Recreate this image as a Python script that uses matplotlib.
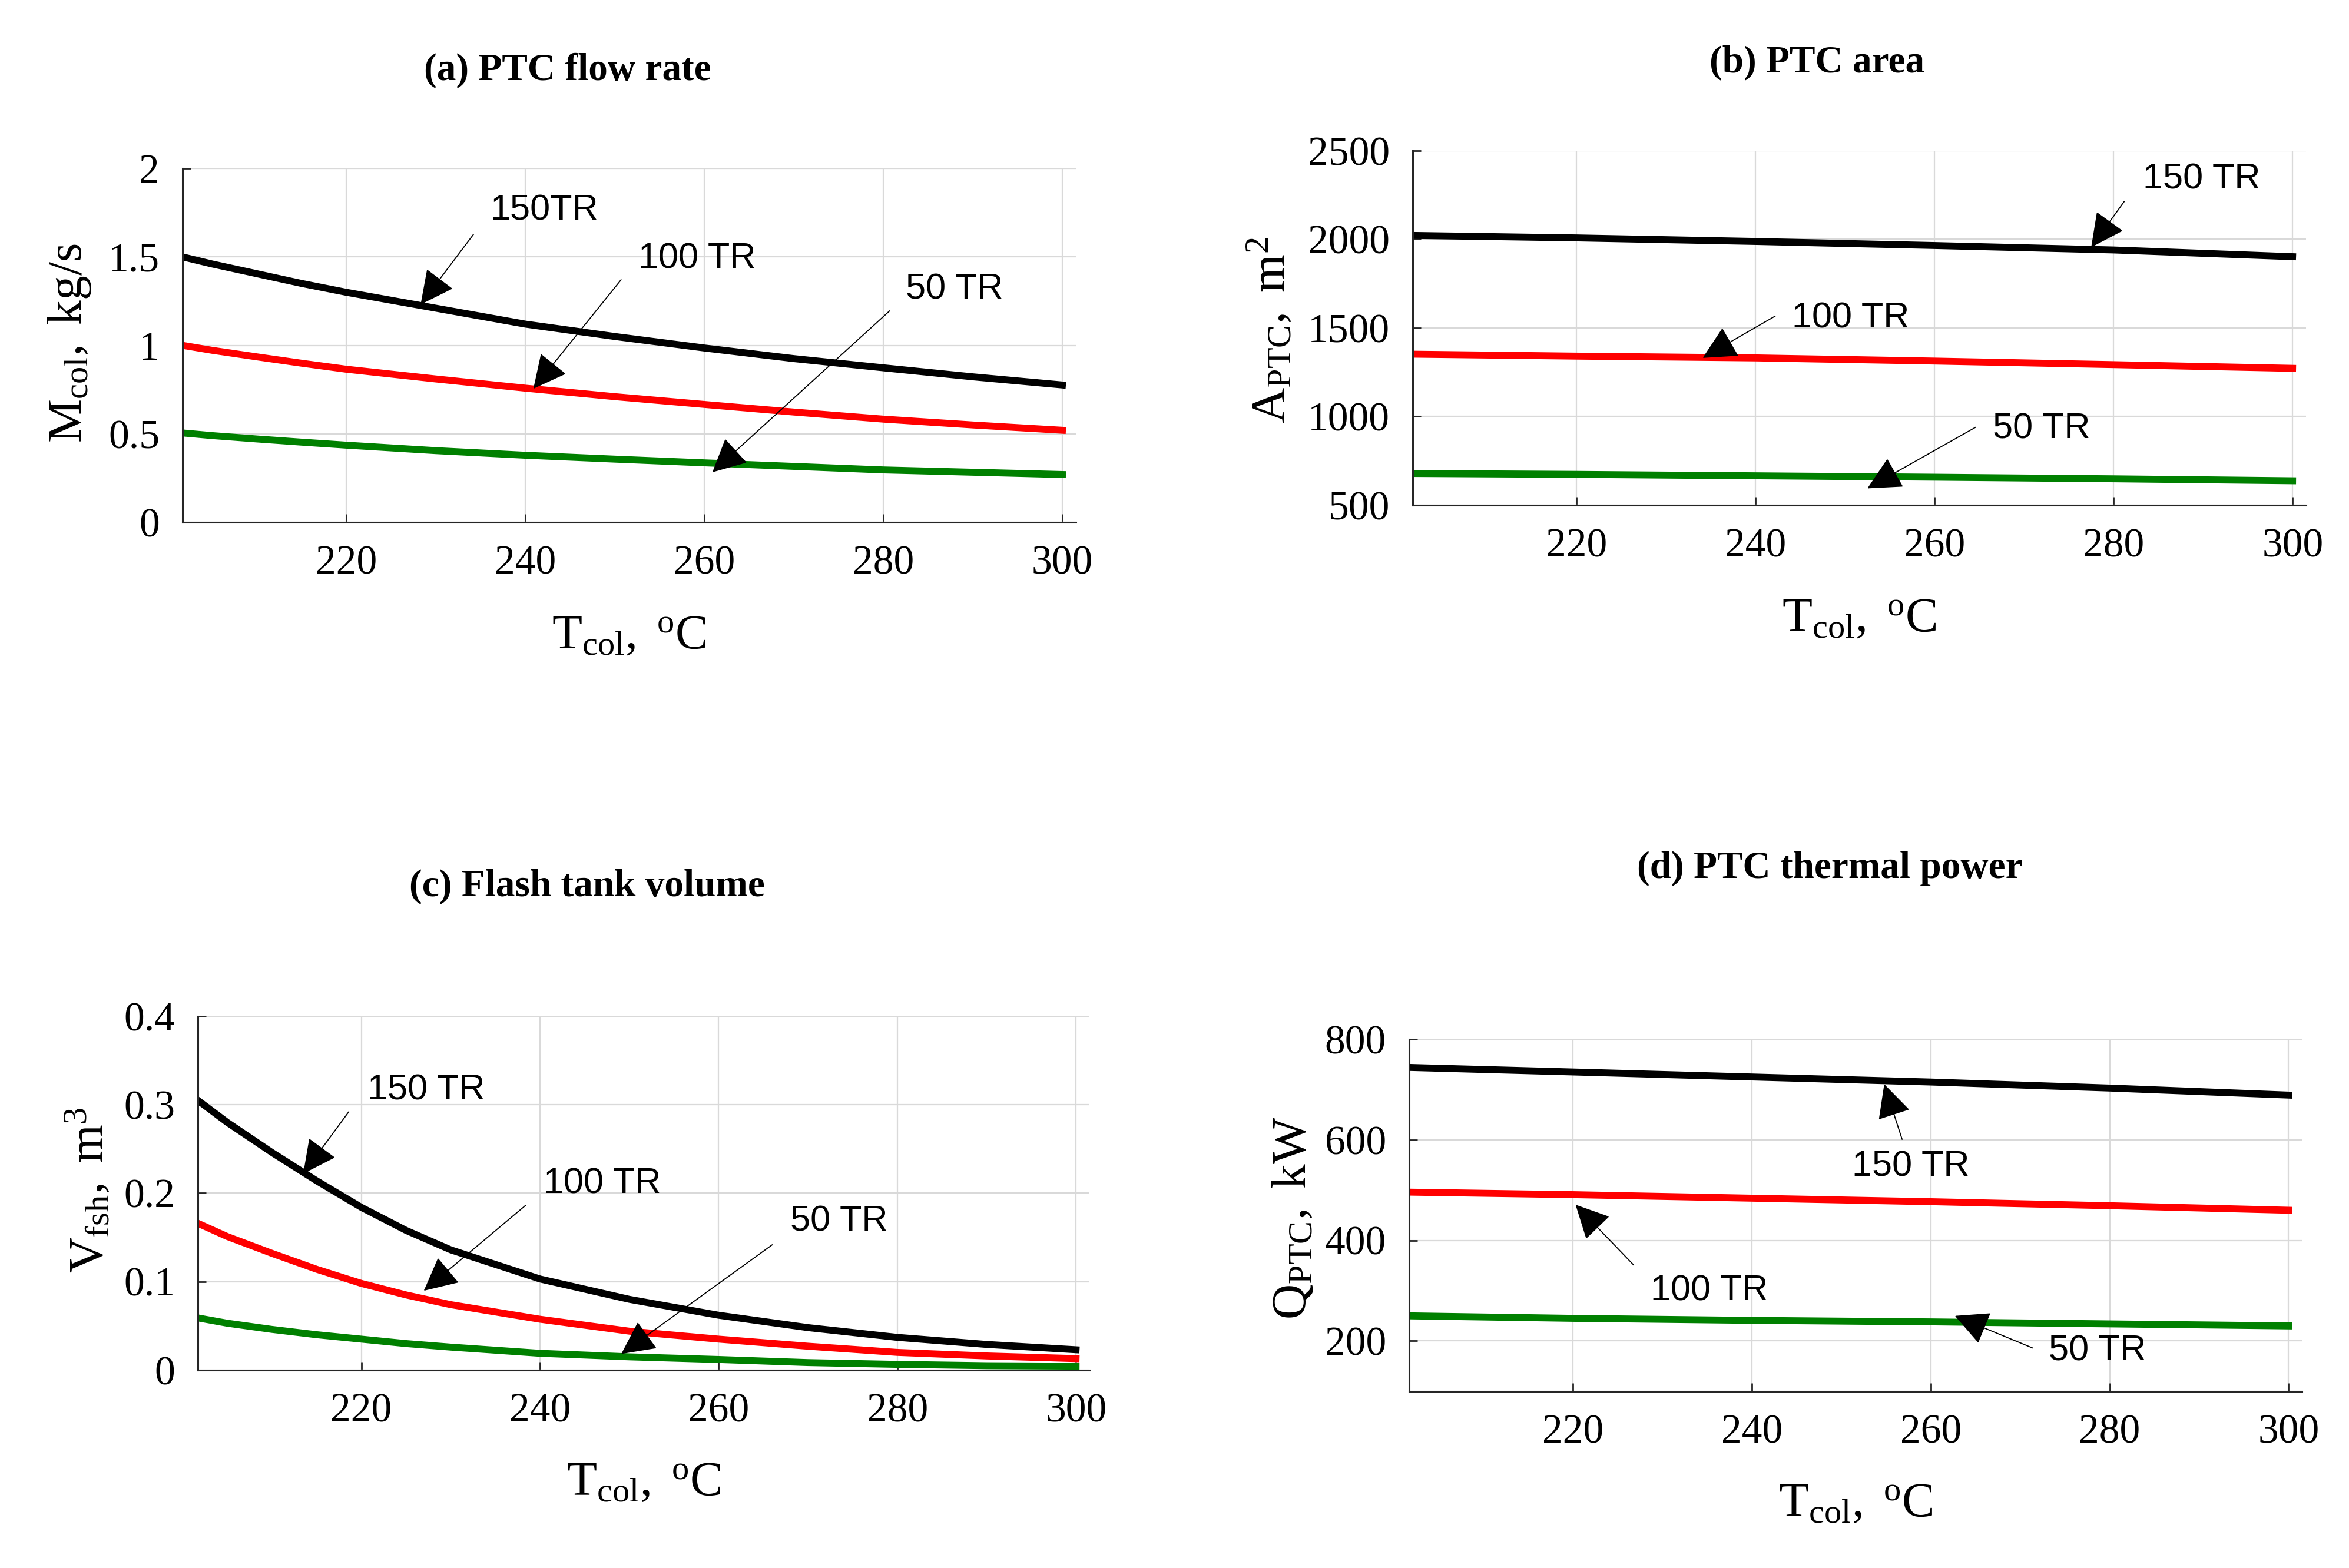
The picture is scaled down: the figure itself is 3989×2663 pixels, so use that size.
import numpy as np
import matplotlib
matplotlib.use("Agg")
import matplotlib.pyplot as plt
from matplotlib.ticker import FuncFormatter

# collector temperature, degC
t_col = [201.7, 205, 210, 215, 220, 230, 240, 250, 260, 270, 280, 290, 300]
t_col_fine = [201.7, 205, 210, 215, 220, 225, 230, 240, 250, 260, 270, 280, 290, 300]
t_col_short = [201.7, 220, 240, 260, 280, 300]

# (a) PTC flow rate, kg/s
m_150 = [1.50, 1.46, 1.405, 1.35, 1.30, 1.21, 1.12, 1.05, 0.985, 0.925, 0.873, 0.822, 0.776]
m_100 = [1.00, 0.972, 0.935, 0.899, 0.865, 0.81, 0.758, 0.71, 0.666, 0.623, 0.583, 0.55, 0.52]
m_50 = [0.505, 0.49, 0.471, 0.453, 0.436, 0.405, 0.379, 0.357, 0.336, 0.316, 0.296, 0.283, 0.27]

# (b) PTC area, m2
a_150 = [2022, 2008, 1988, 1965, 1940, 1902]
a_100 = [1352, 1341, 1331, 1313, 1293, 1272]
a_50 = [679, 674, 666, 658, 649, 638]

# (c) flash tank volume, m3
v_150 = [0.305, 0.280, 0.246, 0.214, 0.184, 0.158, 0.136, 0.103, 0.080, 0.062, 0.048, 0.037, 0.029, 0.023]
v_100 = [0.166, 0.151, 0.132, 0.114, 0.098, 0.085, 0.074, 0.0575, 0.044, 0.035, 0.027, 0.020, 0.016, 0.013]
v_50 = [0.059, 0.053, 0.046, 0.040, 0.035, 0.030, 0.026, 0.019, 0.015, 0.012, 0.0085, 0.0065, 0.005, 0.0045]

# (d) PTC thermal power, kW
q_150 = [744, 735, 725, 715, 703, 689]
q_100 = [496, 491, 484, 477, 469, 460]
q_50 = [250, 245, 241, 238, 234, 230]

plt.rcParams['font.family'] = ['Liberation Serif', 'DejaVu Serif']
plt.rcParams['mathtext.fontset'] = 'custom'
plt.rcParams['mathtext.rm'] = 'Liberation Serif'
plt.rcParams['mathtext.it'] = 'Liberation Serif:italic'

fig = plt.figure(figsize=(39.89, 26.63), dpi=100)

def setup(rect, ylim, yticks, ylabel, ylab_x, ylab_y, xlab_y):
    ax = fig.add_axes(rect)
    ax.set_xlim(201.7, 301.5)
    ax.set_ylim(*ylim)
    ax.set_xticks([220, 240, 260, 280, 300])
    ax.set_yticks(yticks)
    ax.yaxis.set_major_formatter(FuncFormatter(lambda v, p: f'{v:g}'))
    ax.grid(True, color='#d9d9d9', lw=1.6)
    ax.set_axisbelow(True)
    for s in ['top', 'right']:
        ax.spines[s].set_visible(False)
    for s in ['left', 'bottom']:
        ax.spines[s].set_linewidth(2.2)
        ax.spines[s].set_color('#262626')
    ax.tick_params(direction='in', length=10, width=2, labelsize=50, pad=28,
                   color='#262626')
    ax.set_xlabel(r'$\mathrm{T_{col},\ {}^{o}C}$', fontsize=60)
    ax.set_ylabel(ylabel, fontsize=60)
    ax.xaxis.set_label_coords(0.5, xlab_y)
    ax.yaxis.set_label_coords(ylab_x, ylab_y)
    return ax

def note(ax, text, xy, xytext, txt):
    ax.annotate('', xy=xy, xytext=xytext,
                arrowprops=dict(arrowstyle='-|>', color='k', lw=1.3,
                                mutation_scale=92, shrinkA=0, shrinkB=0))
    ax.text(txt[0], txt[1], text, family='Liberation Sans', fontsize=44,
            ha='left', va='center')

lw = 8.5

# (a)
ax = setup([0.0777, 0.6669, 0.3803, 0.2257], (0, 2), [0, 0.5, 1, 1.5, 2],
           r'$\mathrm{M_{col},\ kg/s}$', -0.10, 0.506, -0.26)
ax.plot(t_col, m_150, color='k', lw=lw)
ax.plot(t_col, m_100, color='#ff0000', lw=lw)
ax.plot(t_col, m_50, color='#008000', lw=lw)
note(ax, '150TR', (228.3, 1.231), (234.2, 1.627), (236.1, 1.76))
note(ax, '100 TR', (240.9, 0.755), (250.7, 1.371), (252.6, 1.487))
note(ax, '50 TR', (260.9, 0.283), (280.7, 1.195), (282.5, 1.314))
fig.text(964 / 3989, 1 - 120 / 2663, '(a) PTC flow rate', fontsize=47,
         fontweight='bold', ha='center', va='center')

# (b)
ax = setup([0.6014, 0.6778, 0.3803, 0.2261], (500, 2500),
           [500, 1000, 1500, 2000, 2500],
           r'$\mathrm{A_{PTC},\ m^{2}}$', -0.132, 0.493, -0.26)
ax.plot(t_col_short, a_150, color='k', lw=lw)
ax.plot(t_col_short, a_100, color='#ff0000', lw=lw)
ax.plot(t_col_short, a_50, color='#008000', lw=lw)
note(ax, '150 TR', (277.5, 1955), (281.2, 2214), (283.3, 2336))
note(ax, '100 TR', (234.1, 1331), (242.2, 1567), (244.1, 1554))
note(ax, '50 TR', (252.5, 595), (264.6, 940), (266.5, 927))
fig.text(3086 / 3989, 1 - 107 / 2663, '(b) PTC area', fontsize=47,
         fontweight='bold', ha='center', va='center')

# (c)
ax = setup([0.0842, 0.1262, 0.3796, 0.2257], (0, 0.4),
           [0, 0.1, 0.2, 0.3, 0.4],
           r'$\mathrm{V_{fsh},\ m^{3}}$', -0.095, 0.509, -0.256)
ax.plot(t_col_fine, v_150, color='k', lw=lw)
ax.plot(t_col_fine, v_100, color='#ff0000', lw=lw)
ax.plot(t_col_fine, v_50, color='#008000', lw=lw)
note(ax, '150 TR', (213.5, 0.222), (218.6, 0.292), (220.7, 0.316))
note(ax, '100 TR', (227.0, 0.0897), (238.4, 0.1863), (240.4, 0.2105))
note(ax, '50 TR', (249.1, 0.0183), (266.0, 0.1417), (268.0, 0.1675))
fig.text(997 / 3989, 1 - 1506 / 2663, '(c) Flash tank volume', fontsize=47,
         fontweight='bold', ha='center', va='center')

# (d)
ax = setup([0.5999, 0.1127, 0.3801, 0.2245], (100, 800),
           [200, 400, 600, 800],
           r'$\mathrm{Q_{PTC},\ kW}$', -0.104, 0.493, -0.258)
ax.plot(t_col_short, q_150, color='k', lw=lw)
ax.plot(t_col_short, q_100, color='#ff0000', lw=lw)
ax.plot(t_col_short, q_50, color='#008000', lw=lw)
note(ax, '150 TR', (254.8, 710.7), (256.8, 601), (251.2, 546))
note(ax, '100 TR', (220.3, 471), (226.8, 351), (228.7, 299))
note(ax, '50 TR', (262.7, 250), (271.4, 186), (273.2, 179))
fig.text(3107 / 3989, 1 - 1475 / 2663, '(d) PTC thermal power', fontsize=47,
         fontweight='bold', ha='center', va='center')

fig.savefig('out.png', dpi=100)
